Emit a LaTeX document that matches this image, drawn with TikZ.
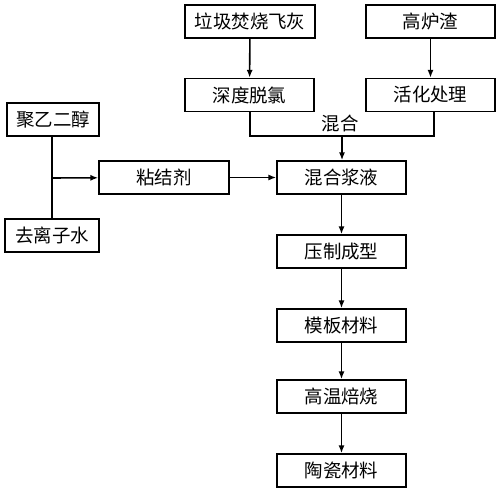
\documentclass[tikz,border=0pt]{standalone}
\usepackage{fontspec}
\newfontfamily\cjk{Noto Sans CJK SC}
\usetikzlibrary{arrows.meta}
\begin{document}
\begin{tikzpicture}[x=0.02cm,y=-0.02cm,
  box/.style={draw,line width=0.9pt,inner sep=0pt,font=\cjk\fontsize{10.5pt}{12pt}\selectfont,minimum height=0.66cm},
  arr/.style={line width=0.9pt,-{Latex[length=4.5pt,width=3.5pt]}},
  ln/.style={line width=0.9pt}]
\useasboundingbox (0,0) rectangle (500,493);
\node[box,minimum width=2.6cm] (fly) at (250,21.5) {垃圾焚烧飞灰};
\node[box,minimum width=2.58cm] (slag) at (430.5,21.5) {高炉渣};
\node[box,minimum width=2.58cm] (dech) at (249.5,95) {深度脱氯};
\node[box,minimum width=2.58cm] (act) at (430.5,95) {活化处理};
\node[box,minimum width=1.84cm] (peg) at (53,119.5) {聚乙二醇};
\node[box,minimum width=1.88cm] (water) at (52,235.5) {去离子水};
\node[box,minimum width=2.6cm] (bind) at (164,177.5) {粘结剂};
\node[box,minimum width=2.58cm] (slurry) at (341.5,177.5) {混合浆液};
\node[box,minimum width=2.58cm] (press) at (341.5,251.5) {压制成型};
\node[box,minimum width=2.58cm] (tmpl) at (341.5,325.5) {模板材料};
\node[box,minimum width=2.58cm] (fire) at (341.5,396.5) {高温焙烧};
\node[box,minimum width=2.58cm] (cer) at (341.5,470.5) {陶瓷材料};
\coordinate (mL) at (250,136);
\coordinate (mR) at (434,136);
\coordinate (mC) at (342,136);
\coordinate (jn) at (52,178);
\node[font=\cjk\fontsize{10.5pt}{12pt}\selectfont,inner sep=0pt] (mixlbl) at (340,123) {混合};
\draw[arr] (fly) -- (dech);
\draw[arr] (slag) -- (act);
\draw[ln] (dech.south -| mL) -- (mL) -- (mR) -- (act.south -| mR);
\draw[arr] (mC) -- (slurry.north -| mC);
\draw[ln] (peg.south -| jn) -- (water.north -| jn);
\draw[arr] (jn) -- (bind);
\draw[arr] (bind) -- (slurry);
\draw[arr] (slurry) -- (press);
\draw[arr] (press) -- (tmpl);
\draw[arr] (tmpl) -- (fire);
\draw[arr] (fire) -- (cer);
\end{tikzpicture}
\end{document}
